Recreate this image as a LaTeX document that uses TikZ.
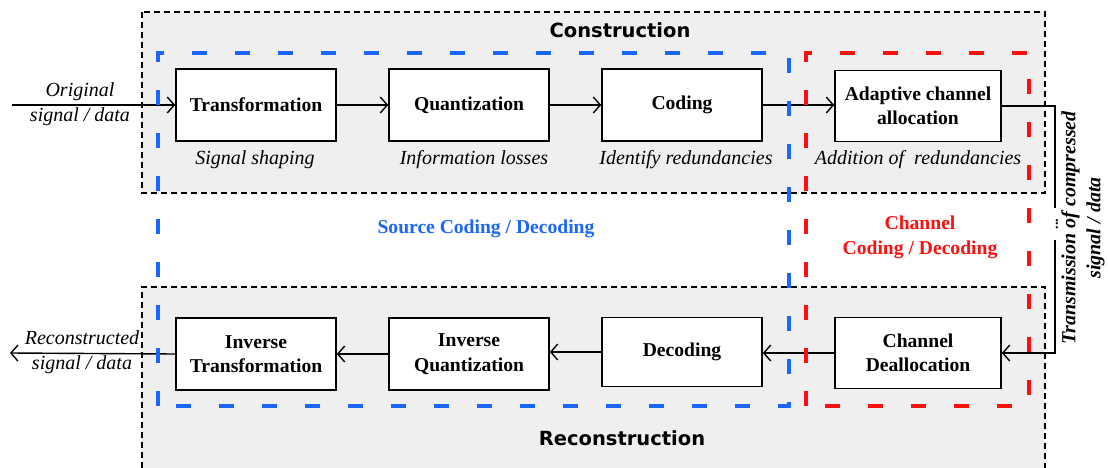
\documentclass[tikz,border=0pt]{standalone}
\usepackage{fontspec}
\setmainfont{Liberation Serif}
\newfontfamily\titlefont{DejaVu Sans}
\usetikzlibrary{arrows.meta}
\definecolor{bg}{HTML}{EFEFEF}
\definecolor{myblue}{HTML}{1A66FF}
\definecolor{myred}{HTML}{FF1010}
\tikzset{
  blk/.style={draw=black, fill=white, line width=1.6pt, minimum width=160pt, minimum height=72pt, inner sep=0pt, align=center, font=\fontsize{19.6}{24.5}\selectfont\bfseries},
  lbl/.style={font=\fontsize{20}{25}\selectfont\itshape, inner sep=0pt, align=center},
  regionline/.style={draw=black, line width=1.4pt, dash pattern=on 6pt off 4pt},
  conn/.style={line width=1.4pt, -{Straight Barb[length=7pt,width=16pt,line width=1.4pt]}},
  plain/.style={line width=1.4pt},
  title/.style={font=\titlefont\fontsize{19.5}{24}\selectfont\bfseries, inner sep=0pt},
  zone/.style={line width=3.5pt, dash pattern=on 15pt off 28pt},
  zonelbl/.style={font=\fontsize{19.6}{25}\selectfont\bfseries, align=center, inner sep=0pt}
}
\begin{document}
\begin{tikzpicture}[x=1pt,y=-1pt]
\useasboundingbox (0,0) rectangle (1108,468);
% regions
\fill[bg] (142,12) rectangle (1045,193);
\draw[regionline] (142,12) rectangle (1045,193);
\fill[bg] (142,287) rectangle (1045,468);
\draw[regionline] (142,468) -- (142,287) -- (1045,287) -- (1045,468);
\node[title] (tcon) at (620,30) {Construction};
\node[title] (trec) at (622,438) {Reconstruction};
% boxes
\node[blk] (trans) at (256,105) {Transformation};
\node[blk] (quant) at (469,105) {Quantization};
\node[blk] (cod) at (682,105) {Coding};
\node[blk, minimum width=166pt, minimum height=71pt] (adapt) at (918,106) {Adaptive channel\\allocation};
\node[blk] (itrans) at (256,354) {Inverse\\Transformation};
\node[blk] (iquant) at (469,354) {Inverse\\Quantization};
\node[blk, minimum height=69pt] (dec) at (682,352) {Decoding};
\node[blk, minimum width=166pt, minimum height=71pt] (dealloc) at (918,353) {Channel\\Deallocation};
% labels under boxes
\node[lbl] (l1) at (255,160) {Signal shaping};
\node[lbl] (l2) at (474,160) {Information losses};
\node[lbl] (l3) at (686,160) {Identify redundancies};
\node[lbl] (l4) at (918,160) {Addition of\ \ redundancies};
% connectors
\coordinate (in) at (12,105);
\coordinate (out) at (10,353);
\coordinate (tr) at (1055,106);
\coordinate (d1) at (1055,208);
\coordinate (d2) at (1055,240);
\draw[conn] (in) -- (trans.west);
\draw[conn] (trans) -- (quant);
\draw[conn] (quant) -- (cod);
\draw[conn] (cod.east) -- (cod.east -| adapt.west);
\draw[plain] (adapt.east) -- (tr) -- (d1);
\draw[conn] (d2) |- (dealloc.east);
\draw[conn] (dealloc.west) -- (dealloc.west -| dec.east);
\draw[conn] (dec.west) -- (dec.west -| iquant.east);
\draw[conn] (iquant) -- (itrans);
\draw[conn] (itrans.west) -- (out);
\node[lbl] (inlbl) at (80,104.5) {Original\\signal / data};
\node[lbl] (outlbl) at (82,352.5) {Reconstructed\\signal / data};
\node[font=\fontsize{14}{14}\selectfont\bfseries, rotate=90, inner sep=0pt] (dots) at (1057,224) {...};
\node[font=\fontsize{20}{25}\selectfont\bfseries\itshape, rotate=90, align=center, inner sep=0pt] (tx) at (1083,228) {Transmission of compressed\\signal / data};
% zones
\draw[zone, myblue] (158,406) -- (158,53) -- (789,53) -- (789,406) -- cycle;
\draw[zone, myred] (806,406) -- (806,53) -- (1029,53) -- (1029,406) -- cycle;
\node[zonelbl, text=myblue] (src) at (486,229) {Source Coding / Decoding};
\node[zonelbl, text=myred] (chn) at (920,237) {Channel\\Coding / Decoding};
\end{tikzpicture}
\end{document}
